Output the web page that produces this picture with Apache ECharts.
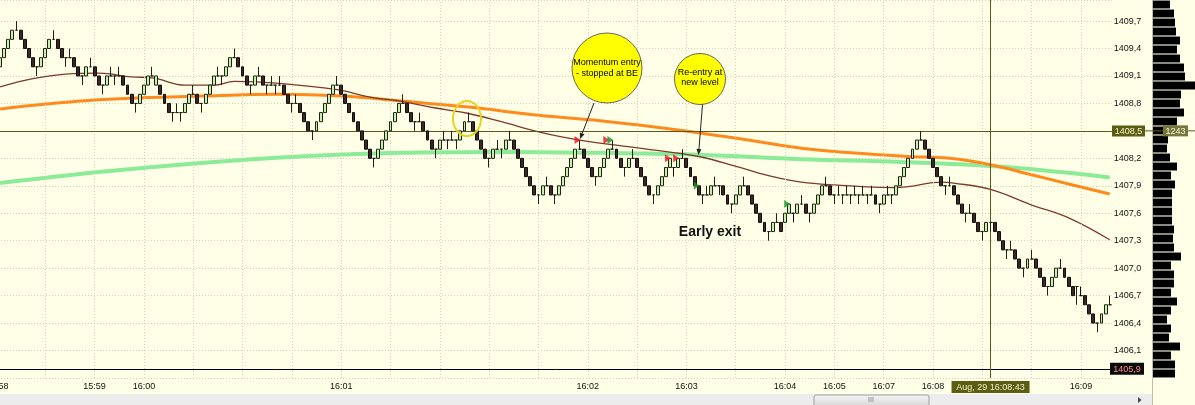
<!DOCTYPE html>
<html><head><meta charset="utf-8">
<script src="https://cdn.jsdelivr.net/npm/echarts/dist/echarts.min.js"></script>
<style>html,body{margin:0;padding:0;background:#FFFFE8;}#c{width:1195px;height:405px;}</style>
</head><body><div id="c"></div>
<script>
// ---- range-bar data (high / low of each bar, direction: U up, D down, a/b line bars) ----
const highs = [
1409.3,1409.4,1409.5,1409.6,1409.7,1409.6,1409.5,1409.4,1409.3,1409.2,
1409.3,1409.4,1409.5,1409.6,1409.5,1409.4,1409.3,1409.4,1409.3,1409.2,
1409.1,1409.2,1409.3,1409.2,1409.1,1409.0,1409.1,1409.2,1409.1,1409.2,
1409.1,1409.0,1408.9,1408.8,1408.9,1409.0,1409.1,1409.2,1409.1,1409.0,
1408.9,1408.8,1408.7,1408.8,1408.7,1408.8,1408.9,1409.0,1408.9,1408.8,
1408.9,1409.0,1409.1,1409.2,1409.1,1409.2,1409.3,1409.4,1409.3,1409.2,
1409.1,1409.0,1409.1,1409.2,1409.1,1409.0,
1409.1,1409.0,1409.1,1409.0,1408.9,1408.8,1408.9,1408.8,1408.7,1408.6,
1408.5,1408.6,1408.7,1408.8,1408.9,1409.0,1409.1,1409.0,1408.9,1408.8,
1408.7,1408.6,1408.5,1408.4,1408.3,1408.2,1408.3,1408.4,1408.5,1408.6,
1408.7,1408.8,1408.9,1408.8,1408.7,1408.6,1408.7,1408.6,1408.5,1408.4,
1408.3,1408.4,1408.5,1408.4,1408.5,1408.4,1408.5,1408.6,1408.7,1408.6,
1408.5,1408.4,1408.3,1408.2,1408.3,1408.4,1408.3,1408.4,1408.5,1408.4,
1408.3,1408.2,1408.1,1408.0,1407.9,1407.8,
1407.9,1408.0,1407.9,1407.8,1407.9,1408.0,1408.1,1408.2,1408.3,1408.4,
1408.3,1408.2,1408.1,1408.0,1408.1,1408.2,1408.3,1408.4,1408.3,1408.2,
1408.1,1408.2,1408.3,1408.2,1408.1,1408.0,1407.9,1407.8,1407.9,1408.0,
1408.1,1408.2,1408.1,1408.2,1408.3,1408.2,1408.1,1408.0,1407.9,1407.8,
1407.9,1407.9,1408.0,1407.9,1407.9,1407.8,1407.7,1407.8,1407.9,1408.0,
1407.9,1407.8,1407.7,1407.6,1407.5,1407.4,1407.5,1407.6,1407.5,1407.6,
1407.7,1407.6,1407.7,
1407.8,1407.7,1407.6,1407.7,1407.8,1407.9,1408.0,1407.9,1407.8,1407.9,
1407.8,1407.9,1407.8,1407.9,1407.8,1407.9,1407.8,1407.9,1407.8,1407.7,
1407.8,1407.9,1407.8,1407.9,1408.0,1408.1,1408.2,1408.3,1408.4,1408.5,
1408.4,1408.3,1408.2,1408.1,1408.0,1407.9,1408.0,1407.9,1407.8,1407.7,
1407.6,1407.7,1407.6,1407.5,1407.4,1407.5,1407.5,1407.5,1407.4,1407.3,
1407.2,1407.3,1407.2,1407.1,1407.0,1407.1,1407.2,1407.1,1407.0,1406.9,
1406.8,1406.9,1407.0,1407.1,1407.0,1406.9,1406.8,1406.8,1406.8,1406.7,
1406.6,1406.5,1406.4,1406.5,1406.6,1406.7
];
const lows = [
1409.2,1409.3,1409.4,1409.5,1409.6,1409.5,1409.4,1409.3,1409.2,1409.1,
1409.2,1409.3,1409.4,1409.5,1409.4,1409.3,1409.2,1409.3,1409.2,1409.1,
1409.0,1409.1,1409.2,1409.1,1409.0,1408.9,1409.0,1409.1,1409.0,1409.1,
1409.0,1408.9,1408.8,1408.7,1408.8,1408.9,1409.0,1409.1,1409.0,1408.9,
1408.8,1408.7,1408.6,1408.7,1408.6,1408.7,1408.8,1408.9,1408.8,1408.7,
1408.8,1408.9,1409.0,1409.1,1409.0,1409.1,1409.2,1409.3,1409.2,1409.1,
1409.0,1408.9,1409.0,1409.1,1409.0,1408.9,
1409.0,1408.9,1409.0,1408.9,1408.8,1408.7,1408.8,1408.7,1408.6,1408.5,
1408.4,1408.5,1408.6,1408.7,1408.8,1408.9,1409.0,1408.9,1408.8,1408.7,
1408.6,1408.5,1408.4,1408.3,1408.2,1408.1,1408.2,1408.3,1408.4,1408.5,
1408.6,1408.7,1408.8,1408.7,1408.6,1408.5,1408.6,1408.5,1408.4,1408.3,
1408.2,1408.3,1408.4,1408.3,1408.4,1408.3,1408.4,1408.5,1408.6,1408.5,
1408.4,1408.3,1408.2,1408.1,1408.2,1408.3,1408.2,1408.3,1408.4,1408.3,
1408.2,1408.1,1408.0,1407.9,1407.8,1407.7,
1407.8,1407.9,1407.8,1407.7,1407.8,1407.9,1408.0,1408.1,1408.2,1408.3,
1408.2,1408.1,1408.0,1407.9,1408.0,1408.1,1408.2,1408.3,1408.2,1408.1,
1408.0,1408.1,1408.2,1408.1,1408.0,1407.9,1407.8,1407.7,1407.8,1407.9,
1408.0,1408.1,1408.0,1408.1,1408.2,1408.1,1408.0,1407.9,1407.8,1407.7,
1407.8,1407.8,1407.9,1407.8,1407.8,1407.7,1407.6,1407.7,1407.8,1407.9,
1407.8,1407.7,1407.6,1407.5,1407.4,1407.3,1407.4,1407.5,1407.4,1407.5,
1407.6,1407.5,1407.6,
1407.7,1407.6,1407.5,1407.6,1407.7,1407.8,1407.9,1407.8,1407.7,1407.8,
1407.7,1407.8,1407.7,1407.8,1407.7,1407.8,1407.7,1407.8,1407.7,1407.6,
1407.7,1407.8,1407.7,1407.8,1407.9,1408.0,1408.1,1408.2,1408.3,1408.4,
1408.3,1408.2,1408.1,1408.0,1407.9,1407.8,1407.9,1407.8,1407.7,1407.6,
1407.5,1407.6,1407.5,1407.4,1407.3,1407.4,1407.4,1407.4,1407.3,1407.2,
1407.1,1407.2,1407.1,1407.0,1406.9,1407.0,1407.1,1407.0,1406.9,1406.8,
1406.7,1406.8,1406.9,1407.0,1406.9,1406.8,1406.7,1406.6,1406.7,1406.6,
1406.5,1406.4,1406.3,1406.4,1406.5,1406.6
];
const dirs = (
 'UUUUbDDDDa' + 'UUUbDDabDD' + 'aUbDDaUbab' + 'DDDaUUUbUD' + 'DDabaUUbDa' + 'UUUbaUUbDD' + 'DaUbDa' +
 'babDDabDDD' + 'aUUUUUbDDD' + 'DDDDDaUUUU' + 'UUbDDabDDD' + 'aUbabaUUbD' + 'DDDaUbaUbD' + 'DDDDDa' +
 'UbDaUUUUUb' + 'DDDaUUUbDD' + 'aUbDDDDaUU' + 'UUaUbDDDDa' + 'bUbaDDaUUb' + 'DDDDDaUbDU' + 'UaU' +
 'bDaUUUbDab' + 'ababababDa' + 'UbaUUUUUUb' + 'DDDDDabDDD' + 'abDDaUaDDD' + 'abDDaUbDDD' + 'aUUbDDDabD' + 'DDaUUb'
).split('');

// ---- time axis labels (bar index -> label) ----
const timeLabelIdx  = [23, 35, 83, 143, 167, 191, 203, 215, 227, 263];
const timeLabelText = ['15:59','16:00','16:01','16:02','16:03','16:04','16:05','16:07','16:08','16:09'];
const vGridIdx = [11,23,35,47,59,71,83,95,107,119,131,143,155,167,179,191,203,215,227,239,251,263];

// ---- moving averages [bar index, price] ----
const maGreen = [[0,1407.93],[24,1408.05],[49,1408.15],[73,1408.22],[97,1408.26],[122,1408.27],[146,1408.26],
  [170,1408.24],[195,1408.19],[219,1408.16],[243,1408.11],[258,1408.05],[270,1407.99]];
const maOrange = [[0,1408.74],[24,1408.84],[49,1408.88],[68,1408.90],[83,1408.88],[97,1408.83],[114,1408.76],
  [131,1408.67],[146,1408.61],[165,1408.51],[182,1408.40],[195,1408.31],[207,1408.26],[221,1408.22],
  [231,1408.20],[241,1408.13],[251,1408.02],[260,1407.92],[270,1407.81]];
const maBrown = [[0,1408.98],[8,1409.07],[16,1409.12],[24,1409.13],[32,1409.09],[37,1409.08],[45,1409.00],
  [52,1409.00],[57,1409.04],[68,1409.02],[82,1408.95],[90,1408.87],[98,1408.82],[106,1408.75],[114,1408.69],
  [122,1408.60],[131,1408.49],[141,1408.40],[156,1408.31],[170,1408.22],[180,1408.10],[188,1408.00],
  [195,1407.94],[203,1407.91],[217,1407.88],[221,1407.89],[229,1407.94],[232,1407.93],[241,1407.86],
  [251,1407.69],[260,1407.55],[270,1407.31]];

// ---- trade markers [bar index, price, side] ----
const tradeMarks = [[141,1408.4,'sell'],[148,1408.4,'sell'],[149,1408.4,'buy'],[163,1408.2,'sell'],
  [165,1408.2,'sell'],[170,1407.9,'buy'],[192,1407.7,'buy']];

// ---- volume profile (top row to bottom row) ----
const profileVolume = [17,21,22,23,27,24,27,31,32,42,28,27,31,24,16,15,14,17,24,18,22,19,19,19,19,21,20,21,28,18,21,21,18,24,18,14,18,16,27,18,22,22];

const cursorPrice = 1408.5, lowLinePrice = 1405.9, cursorIdx = 241;
const cursorTime = 'Aug, 29 16:08:43', profileAtCursor = '1243';

// ---- build ----
const categories = highs.map((_, i) => String(i));
const ohlc = dirs.map((d, i) => {
  const h = highs[i], l = lows[i];
  if (d === 'U') return [l, h, l, h];
  if (d === 'D') return [h, l, l, h];
  if (d === 'a') return [h, h, l, h];
  return [l, l, l, h];
});
const labelMap = {};
timeLabelIdx.forEach((k, j) => labelMap[k] = timeLabelText[j]);
const FONT = 'Liberation Sans, Arial, sans-serif';

const chart = echarts.init(document.getElementById('c'));
chart.setOption({
  animation: false,
  backgroundColor: '#FFFFE8',
  grid: [
    {left: -2, right: 83.2, top: 0, height: 378, outerBoundsMode: 'none'},
    {left: 1153, right: 0, top: 0, height: 378, outerBoundsMode: 'none'}
  ],
  xAxis: [
    {type: 'category', gridIndex: 0, data: categories, boundaryGap: true,
     axisLine: {show: false}, axisTick: {show: false}, splitLine: {show: false},
     axisLabel: {interval: (i) => labelMap[i] !== undefined, formatter: (v, i) => labelMap[i] || '',
       fontSize: 9, color: '#111', fontFamily: FONT, margin: 4}},
    {type: 'value', gridIndex: 1, min: 0, max: 42, show: false}
  ],
  yAxis: [
    {type: 'value', gridIndex: 0, position: 'right', min: 1405.8, max: 1409.93, interval: 0.3,
     axisLine: {show: false}, axisTick: {show: false},
     axisLabel: {margin: 2, fontSize: 9, color: '#111', fontFamily: FONT, showMinLabel: false, showMaxLabel: false,
       formatter: (v) => v.toFixed(1).replace('.', ',')},
     splitLine: {lineStyle: {color: '#D2D2BE', type: [1, 2], width: 1}}},
    {type: 'category', gridIndex: 1, data: profileVolume.map((_, i) => 'r' + i), inverse: true, show: false}
  ],
  series: [
    {type: 'line', data: maGreen, smooth: 0.4, showSymbol: false, z: 2,
     lineStyle: {color: '#8CEB98', width: 4}, silent: true,
     markLine: {silent: true, symbol: ['none', 'none'], label: {show: false},
       lineStyle: {color: '#D2D2BE', type: [1, 2], width: 1},
       data: vGridIdx.map(k => ({xAxis: String(k)}))}},
    {type: 'line', data: maOrange, smooth: 0.4, showSymbol: false, z: 3,
     lineStyle: {color: '#FF8A1C', width: 3}, silent: true},
    {type: 'line', data: maBrown, smooth: 0.4, showSymbol: false, z: 4,
     lineStyle: {color: '#7C3A2C', width: 1.3}, silent: true},
    {type: 'candlestick', data: ohlc, barWidth: 3.4, z: 5, silent: true,
     itemStyle: {color: '#C8F2AC', color0: '#3A2826', borderColor: '#1C2414', borderColor0: '#140C0A', borderWidth: 1},
     markLine: {silent: true, symbol: ['none', 'none'], label: {show: false},
       data: [
         {yAxis: cursorPrice, lineStyle: {color: '#5A5A18', width: 1, type: 'solid'}},
         {yAxis: lowLinePrice, lineStyle: {color: '#000000', width: 1, type: 'solid'}},
         {xAxis: String(cursorIdx), lineStyle: {color: '#5A5A18', width: 1, type: 'solid'}}
       ]}},
    {type: 'scatter', data: tradeMarks.map(m => ({value: [m[0], m[1]],
        itemStyle: {color: m[2] === 'buy' ? '#1E8E22' : '#E8141C'}})),
     symbol: 'triangle', symbolSize: [8, 6], symbolRotate: -90, symbolOffset: [-2, 0], z: 6, silent: true},
    {type: 'bar', xAxisIndex: 1, yAxisIndex: 1, data: profileVolume, barCategoryGap: '12%',
     itemStyle: {color: '#000000'}, silent: true}
  ]
});

// ---- overlays (cursor labels, annotations, scroll bar) ----
const yCur = chart.convertToPixel({yAxisIndex: 0}, cursorPrice);
const yLow = chart.convertToPixel({yAxisIndex: 0}, lowLinePrice);
const xCur = chart.convertToPixel({xAxisIndex: 0}, String(cursorIdx));

function arrow(x1, y1, x2, y2) {
  const dx = x2 - x1, dy = y2 - y1, L = Math.hypot(dx, dy), ux = dx / L, uy = dy / L;
  const bx = x2 - ux * 6, by = y2 - uy * 6, px = -uy * 2.5, py = ux * 2.5;
  return [
    {type: 'line', shape: {x1, y1, x2: bx, y2: by}, style: {stroke: '#222', lineWidth: 1}, z: 100},
    {type: 'polygon', shape: {points: [[x2, y2], [bx + px, by + py], [bx - px, by - py]]}, style: {fill: '#222'}, z: 100}
  ];
}
function box(x, y, w, h, fill, text, color) {
  return [
    {type: 'rect', shape: {x, y, width: w, height: h}, style: {fill}, z: 120},
    {type: 'text', x: x + w / 2, y: y + h / 2 + 0.5, style: {text, fill: color, font: '9px ' + FONT, align: 'center', verticalAlign: 'middle'}, z: 121}
  ];
}
function txt(x, y, text, font, color) {
  return {type: 'text', x, y, style: {text, fill: color || '#000', font, align: 'center', verticalAlign: 'middle'}, z: 110};
}

const g = [
  {type: 'rect', shape: {x: 0, y: 394, width: 1152, height: 11}, style: {fill: '#ECECEC'}, z: 90},
  {type: 'rect', shape: {x: 814, y: 395, width: 115, height: 12, r: 2},
   style: {fill: new echarts.graphic.LinearGradient(0, 0, 0, 1, [{offset: 0, color: '#F6F6F6'}, {offset: 1, color: '#D4D4D4'}]), stroke: '#A0A0A0', lineWidth: 1}, z: 91},
  {type: 'text', x: 871, y: 400.5, style: {text: 'III', fill: '#7A7A7A', font: '7px ' + FONT, align: 'center', verticalAlign: 'middle'}, z: 92},
  {type: 'polygon', shape: {points: [[1138, 397], [1141.5, 400], [1138, 403]]}, style: {fill: '#444'}, z: 92},
  {type: 'line', shape: {x1: 1152.5, y1: 0, x2: 1152.5, y2: 405}, style: {stroke: '#BDBDB0', lineWidth: 1}, z: 91},
  {type: 'line', shape: {x1: 1112, y1: yCur, x2: 1195, y2: yCur}, style: {stroke: '#5A5A18', lineWidth: 1}, z: 95},
  {type: 'text', x: 8.5, y: 387, style: {text: '15:58', fill: '#111', font: '9px ' + FONT, align: 'right', verticalAlign: 'middle'}, z: 92},
  ...box(1112, yCur - 5.5, 33, 11, '#5C5C14', cursorPrice.toFixed(1).replace('.', ','), '#F4F4C8'),
  ...box(1110, yLow - 6, 34, 12, '#0A0A0A', lowLinePrice.toFixed(1).replace('.', ','), '#FF8C8C'),
  ...box(1163, yCur - 5.5, 25, 11, '#76763A', profileAtCursor, '#F2F2E0'),
  ...box(xCur - 39, 381, 78, 12, '#5C5C14', cursorTime, '#F0F0C0'),
  // annotations
  {type: 'circle', shape: {cx: 607, cy: 68, r: 35}, style: {fill: '#FFFF00', stroke: '#666', lineWidth: 1}, z: 100},
  txt(607, 62.5, 'Momentum entry', '9px ' + FONT),
  txt(607, 73.5, '- stopped at BE', '9px ' + FONT),
  ...arrow(594, 103, 580, 139),
  {type: 'circle', shape: {cx: 700, cy: 79, r: 25.5}, style: {fill: '#FFFF00', stroke: '#666', lineWidth: 1}, z: 100},
  txt(700, 72.5, 'Re-entry at', '9px ' + FONT),
  txt(700, 83, 'new level', '9px ' + FONT),
  ...arrow(702.5, 104.5, 698.5, 155),
  txt(710, 232, 'Early exit', 'bold 14px ' + FONT, '#111'),
  {type: 'ellipse', shape: {cx: 467, cy: 118.5, rx: 14, ry: 17.5}, style: {fill: 'none', stroke: '#E6D41E', lineWidth: 2}, z: 100}
];
chart.setOption({graphic: g});
</script>
</body></html>
